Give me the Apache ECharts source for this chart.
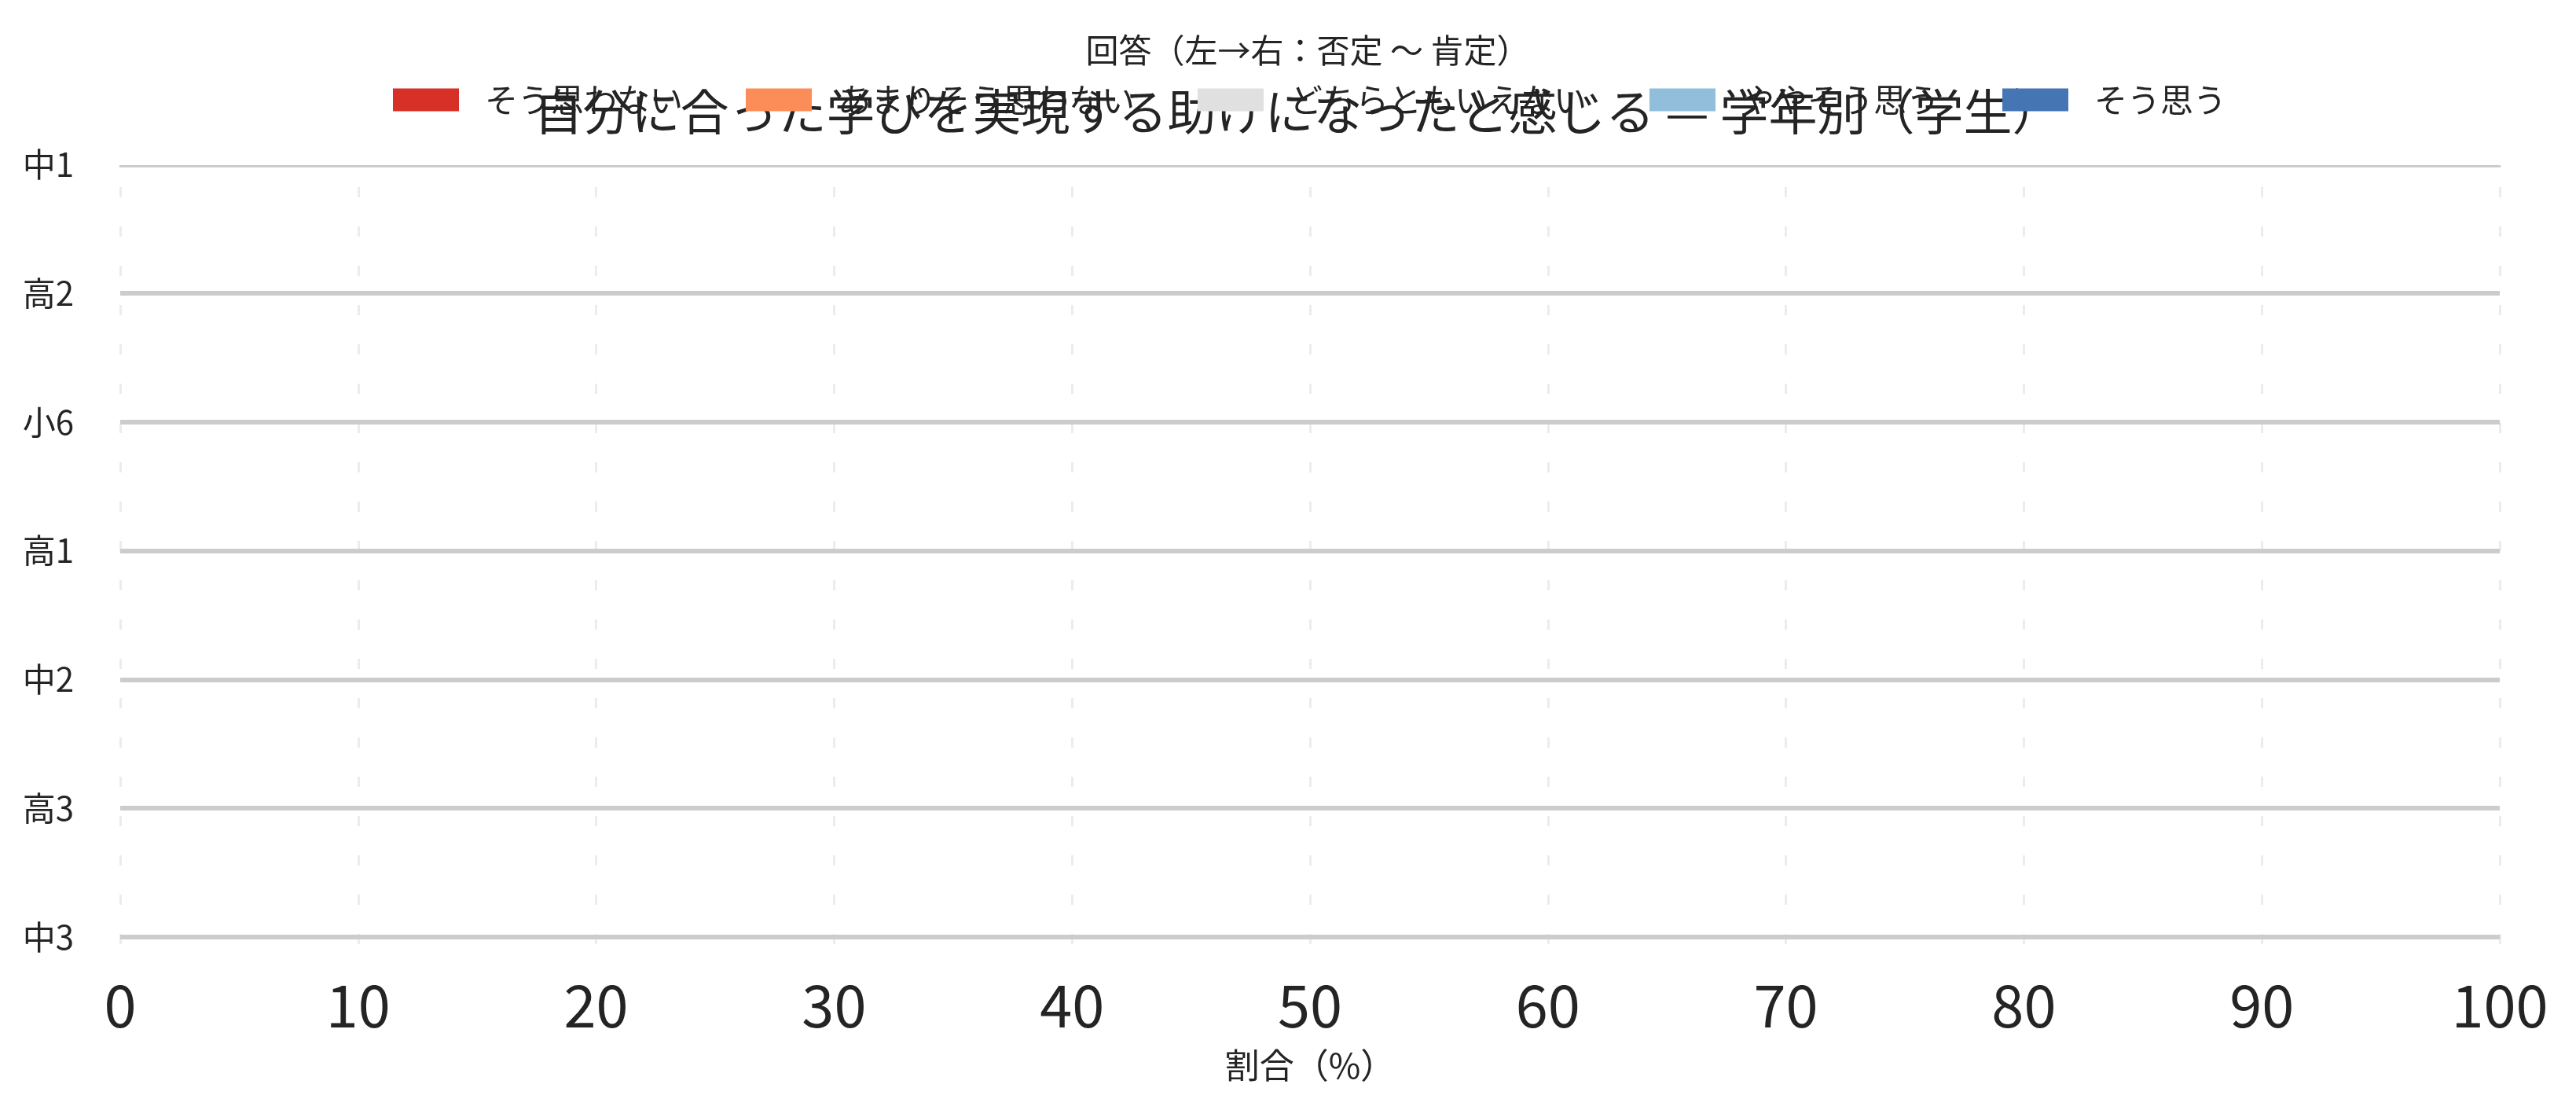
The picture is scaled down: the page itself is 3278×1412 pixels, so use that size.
<!DOCTYPE html>
<html>
<head>
<meta charset="utf-8">
<script src="https://cdn.jsdelivr.net/npm/echarts@6/dist/echarts.min.js"></script>
<style>
html,body{margin:0;padding:0;background:#ffffff;}
#chart{width:3278px;height:1412px;}
</style>
</head>
<body>
<div id="chart"></div>
<script>
// ---- data (no bars are drawn, every value is missing) ----
const chartTitle = '自分に合った学びを実現する助けになったと感じる — 学年別（学生）';
const legendTitle = '回答（左→右：否定 〜 肯定）';
const xAxisTitle = '割合（%）';
const categories = ['中1', '高2', '小6', '高1', '中2', '高3', '中3'];
const responseNames = ['そう思わない', 'あまりそう思わない', 'どちらともいえない', 'ややそう思う', 'そう思う'];
const valuesSouOmowanai     = [null, null, null, null, null, null, null];
const valuesAmariOmowanai   = [null, null, null, null, null, null, null];
const valuesDochiraTomo     = [null, null, null, null, null, null, null];
const valuesYayaSouOmou     = [null, null, null, null, null, null, null];
const valuesSouOmou         = [null, null, null, null, null, null, null];
const xMin = 0, xMax = 100, xStep = 10;

// ---- styling ----
const colors = ['#d73027', '#fc8d59', '#e0e0e0', '#91bfdb', '#4575b4'];
const FONT = '"Noto Sans CJK JP", "Noto Sans", sans-serif';
const TEXT = '#242424';

const seriesValues = [valuesSouOmowanai, valuesAmariOmowanai, valuesDochiraTomo, valuesYayaSouOmou, valuesSouOmou];

const chart = echarts.init(document.getElementById('chart'), null, {renderer: 'canvas'});
chart.setOption({
  animation: false,
  backgroundColor: '#ffffff',
  color: colors,
  textStyle: {fontFamily: FONT, color: TEXT},
  title: [
    {
      text: chartTitle, left: 1651, top: 111, textAlign: 'center', padding: 0, z: 1,
      textStyle: {fontSize: 62, fontWeight: 'normal', color: TEXT, fontFamily: FONT}
    },
    {
      text: legendTitle, left: 1664, top: 43, textAlign: 'center', padding: 0, z: 1,
      textStyle: {fontSize: 42, fontWeight: 'normal', color: TEXT, fontFamily: FONT}
    }
  ],
  legend: {
    orient: 'horizontal', left: 500, top: 106, padding: 0, z: 5,
    itemWidth: 84, itemHeight: 29, itemGap: 80, icon: 'rect',
    data: responseNames,
    textStyle: {fontSize: 42, color: TEXT, fontFamily: FONT, padding: [0, 0, 0, 28]}
  },
  grid: [
    {left: 153, right: 97, top: 209, bottom: 220, outerBoundsMode: 'none'},
    {left: 153, right: 97, top: 209, bottom: 211, outerBoundsMode: 'none'}
  ],
  xAxis: [
    {
      gridIndex: 0, type: 'value', min: xMin, max: xMax, interval: xStep, position: 'bottom',
      axisLine: {show: false}, axisTick: {show: false}, splitLine: {show: false},
      axisLabel: {fontSize: 74, color: TEXT, fontFamily: FONT, margin: 50},
      name: xAxisTitle, nameLocation: 'middle', nameGap: 141,
      nameTextStyle: {fontSize: 44, color: TEXT, fontFamily: FONT}
    },
    {
      gridIndex: 1, type: 'value', min: xMin, max: xMax, interval: xStep, z: 0,
      axisLine: {show: false}, axisTick: {show: false}, axisLabel: {show: false},
      splitLine: {show: true, lineStyle: {color: '#ececec', width: 3, type: [13, 37], dashOffset: 21}}
    },
    {
      gridIndex: 0, type: 'value', min: xMin, max: xMax, position: 'top', offset: -2, z: 3,
      axisLine: {show: true, lineStyle: {color: '#cccccc', width: 3}},
      axisTick: {show: false}, axisLabel: {show: false}, splitLine: {show: false}
    }
  ],
  yAxis: [
    {
      gridIndex: 0, type: 'category', data: categories, inverse: true, boundaryGap: false, z: 3,
      axisLine: {show: false}, axisTick: {show: false},
      axisLabel: {fontSize: 42, color: TEXT, fontFamily: FONT, margin: 59},
      splitLine: {show: true, interval: function (idx) { return idx !== 0; },
                  lineStyle: {color: '#cccccc', width: 6}}
    },
    {gridIndex: 1, type: 'value', show: false}
  ],
  series: responseNames.map(function (name, i) {
    return {
      name: name, type: 'bar', stack: 'total', xAxisIndex: 0, yAxisIndex: 0,
      data: seriesValues[i]
    };
  })
});
</script>
</body>
</html>
